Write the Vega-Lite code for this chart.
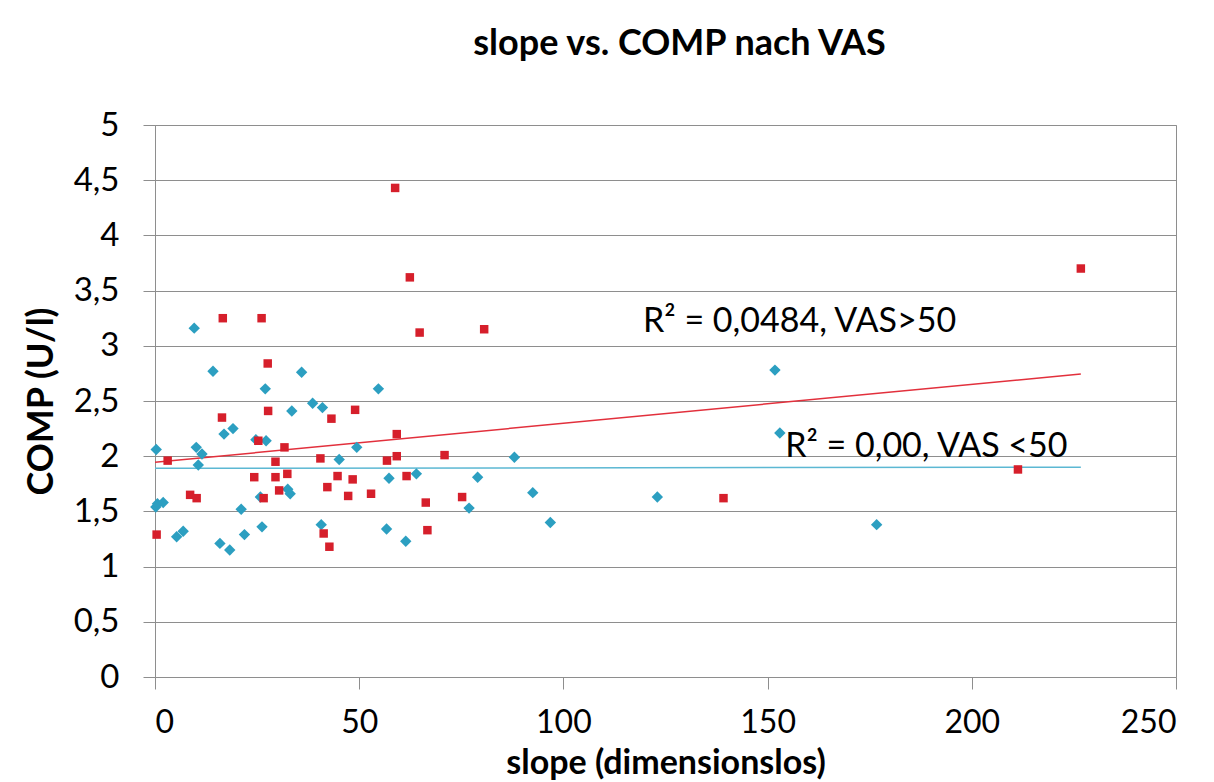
{
  "$schema": "https://vega.github.io/schema/vega-lite/v6.json",
  "width": 1021,
  "height": 552,
  "autosize": {"type": "none"},
  "padding": {"left": 155, "top": 125, "right": 38, "bottom": 105},
  "background": "white",
  "title": {"text": "slope vs. COMP nach VAS", "font": "Lato", "fontSize": 36, "fontWeight": "bold", "color": "black", "anchor": "middle", "offset": 46, "dx": 14},
  "config": {
    "view": {"stroke": "#8e8e8e", "strokeWidth": 1},
    "axis": {
      "labelFont": "Lato", "labelFontSize": 33, "labelColor": "black",
      "titleFont": "Lato", "titleFontWeight": "bold", "titleColor": "black",
      "tickColor": "#8e8e8e", "tickSize": 12, "tickWidth": 1,
      "domainColor": "#8e8e8e", "gridColor": "#8e8e8e", "gridWidth": 1
    }
  },
  "datasets": {
    "pts": [
      {"slope": 0.3, "comp": 2.06, "grp": "VAS<50"},
      {"slope": 0.2, "comp": 1.54, "grp": "VAS<50"},
      {"slope": 0.6, "comp": 1.57, "grp": "VAS<50"},
      {"slope": 2.0, "comp": 1.58, "grp": "VAS<50"},
      {"slope": 5.3, "comp": 1.27, "grp": "VAS<50"},
      {"slope": 6.9, "comp": 1.32, "grp": "VAS<50"},
      {"slope": 9.6, "comp": 3.16, "grp": "VAS<50"},
      {"slope": 10.1, "comp": 2.08, "grp": "VAS<50"},
      {"slope": 10.6, "comp": 1.92, "grp": "VAS<50"},
      {"slope": 11.5, "comp": 2.02, "grp": "VAS<50"},
      {"slope": 14.2, "comp": 2.77, "grp": "VAS<50"},
      {"slope": 15.9, "comp": 1.21, "grp": "VAS<50"},
      {"slope": 16.9, "comp": 2.20, "grp": "VAS<50"},
      {"slope": 18.3, "comp": 1.15, "grp": "VAS<50"},
      {"slope": 19.1, "comp": 2.25, "grp": "VAS<50"},
      {"slope": 21.1, "comp": 1.52, "grp": "VAS<50"},
      {"slope": 21.9, "comp": 1.29, "grp": "VAS<50"},
      {"slope": 24.7, "comp": 2.15, "grp": "VAS<50"},
      {"slope": 26.2, "comp": 1.36, "grp": "VAS<50"},
      {"slope": 25.8, "comp": 1.63, "grp": "VAS<50"},
      {"slope": 27.0, "comp": 2.61, "grp": "VAS<50"},
      {"slope": 27.2, "comp": 2.14, "grp": "VAS<50"},
      {"slope": 32.5, "comp": 1.70, "grp": "VAS<50"},
      {"slope": 33.1, "comp": 1.66, "grp": "VAS<50"},
      {"slope": 33.5, "comp": 2.41, "grp": "VAS<50"},
      {"slope": 35.9, "comp": 2.76, "grp": "VAS<50"},
      {"slope": 38.6, "comp": 2.48, "grp": "VAS<50"},
      {"slope": 40.7, "comp": 1.38, "grp": "VAS<50"},
      {"slope": 41.0, "comp": 2.44, "grp": "VAS<50"},
      {"slope": 45.1, "comp": 1.97, "grp": "VAS<50"},
      {"slope": 49.4, "comp": 2.08, "grp": "VAS<50"},
      {"slope": 54.7, "comp": 2.61, "grp": "VAS<50"},
      {"slope": 56.7, "comp": 1.34, "grp": "VAS<50"},
      {"slope": 57.3, "comp": 1.80, "grp": "VAS<50"},
      {"slope": 61.4, "comp": 1.23, "grp": "VAS<50"},
      {"slope": 64.0, "comp": 1.84, "grp": "VAS<50"},
      {"slope": 76.9, "comp": 1.53, "grp": "VAS<50"},
      {"slope": 79.0, "comp": 1.81, "grp": "VAS<50"},
      {"slope": 88.0, "comp": 1.99, "grp": "VAS<50"},
      {"slope": 92.5, "comp": 1.67, "grp": "VAS<50"},
      {"slope": 96.8, "comp": 1.40, "grp": "VAS<50"},
      {"slope": 123.0, "comp": 1.63, "grp": "VAS<50"},
      {"slope": 151.8, "comp": 2.78, "grp": "VAS<50"},
      {"slope": 153.0, "comp": 2.21, "grp": "VAS<50"},
      {"slope": 176.7, "comp": 1.38, "grp": "VAS<50"},
      {"slope": 0.4, "comp": 1.29, "grp": "VAS>50"},
      {"slope": 3.1, "comp": 1.96, "grp": "VAS>50"},
      {"slope": 8.6, "comp": 1.65, "grp": "VAS>50"},
      {"slope": 10.2, "comp": 1.62, "grp": "VAS>50"},
      {"slope": 16.4, "comp": 2.35, "grp": "VAS>50"},
      {"slope": 16.6, "comp": 3.25, "grp": "VAS>50"},
      {"slope": 24.3, "comp": 1.81, "grp": "VAS>50"},
      {"slope": 25.3, "comp": 2.14, "grp": "VAS>50"},
      {"slope": 26.1, "comp": 3.25, "grp": "VAS>50"},
      {"slope": 26.6, "comp": 1.62, "grp": "VAS>50"},
      {"slope": 27.6, "comp": 2.84, "grp": "VAS>50"},
      {"slope": 27.7, "comp": 2.41, "grp": "VAS>50"},
      {"slope": 29.5, "comp": 1.95, "grp": "VAS>50"},
      {"slope": 29.5, "comp": 1.81, "grp": "VAS>50"},
      {"slope": 30.4, "comp": 1.69, "grp": "VAS>50"},
      {"slope": 31.7, "comp": 2.08, "grp": "VAS>50"},
      {"slope": 32.4, "comp": 1.84, "grp": "VAS>50"},
      {"slope": 40.5, "comp": 1.98, "grp": "VAS>50"},
      {"slope": 41.3, "comp": 1.30, "grp": "VAS>50"},
      {"slope": 42.2, "comp": 1.72, "grp": "VAS>50"},
      {"slope": 42.7, "comp": 1.18, "grp": "VAS>50"},
      {"slope": 43.2, "comp": 2.34, "grp": "VAS>50"},
      {"slope": 44.7, "comp": 1.82, "grp": "VAS>50"},
      {"slope": 47.3, "comp": 1.64, "grp": "VAS>50"},
      {"slope": 48.4, "comp": 1.79, "grp": "VAS>50"},
      {"slope": 49.0, "comp": 2.42, "grp": "VAS>50"},
      {"slope": 52.9, "comp": 1.66, "grp": "VAS>50"},
      {"slope": 56.8, "comp": 1.96, "grp": "VAS>50"},
      {"slope": 58.8, "comp": 4.43, "grp": "VAS>50"},
      {"slope": 59.2, "comp": 2.20, "grp": "VAS>50"},
      {"slope": 59.2, "comp": 2.00, "grp": "VAS>50"},
      {"slope": 61.6, "comp": 1.82, "grp": "VAS>50"},
      {"slope": 62.4, "comp": 3.62, "grp": "VAS>50"},
      {"slope": 64.8, "comp": 3.12, "grp": "VAS>50"},
      {"slope": 66.3, "comp": 1.58, "grp": "VAS>50"},
      {"slope": 66.7, "comp": 1.33, "grp": "VAS>50"},
      {"slope": 70.9, "comp": 2.01, "grp": "VAS>50"},
      {"slope": 75.2, "comp": 1.63, "grp": "VAS>50"},
      {"slope": 80.6, "comp": 3.15, "grp": "VAS>50"},
      {"slope": 139.2, "comp": 1.62, "grp": "VAS>50"},
      {"slope": 211.3, "comp": 1.88, "grp": "VAS>50"},
      {"slope": 226.7, "comp": 3.70, "grp": "VAS>50"}
    ],
    "trend": [
      {"slope": 0, "comp": 1.945, "grp": "VAS>50"},
      {"slope": 226.7, "comp": 2.745, "grp": "VAS>50"},
      {"slope": 0, "comp": 1.89, "grp": "VAS<50"},
      {"slope": 226.7, "comp": 1.90, "grp": "VAS<50"}
    ],
    "labels": [
      {"slope": 119.5, "comp": 3.125, "label": "R² = 0,0484, VAS>50"},
      {"slope": 154.3, "comp": 1.993, "label": "R² = 0,00, VAS <50"}
    ]
  },
  "encoding": {
    "x": {"field": "slope", "type": "quantitative",
      "scale": {"domain": [0, 250], "nice": false},
      "axis": {"values": [0, 50, 100, 150, 200, 250], "grid": false, "domain": false, "labelPadding": 18, "labelFontSize": 32,
        "title": "slope (dimensionslos)", "titleFontSize": 34, "titlePadding": 8}},
    "y": {"field": "comp", "type": "quantitative",
      "scale": {"domain": [0, 5], "nice": false},
      "axis": {"values": [0, 0.5, 1, 1.5, 2, 2.5, 3, 3.5, 4, 4.5, 5], "grid": true, "domain": true, "labelPadding": 24,
        "labelExpr": "replace(toString(datum.value), '.', ',')",
        "title": "COMP (U/l)", "titleFontSize": 36, "titlePadding": 13}}
  },
  "layer": [
    {
      "data": {"name": "trend"},
      "transform": [{"filter": "datum.grp === 'VAS<50'"}],
      "mark": {"type": "line", "color": "#5cb8d3", "strokeWidth": 1.5}
    },
    {
      "data": {"name": "trend"},
      "transform": [{"filter": "datum.grp === 'VAS>50'"}],
      "mark": {"type": "line", "color": "#e2303c", "strokeWidth": 1.5}
    },
    {
      "data": {"name": "pts"},
      "transform": [{"filter": "datum.grp === 'VAS<50'"}],
      "mark": {"type": "point", "shape": "diamond", "filled": true, "color": "#2c9fc1", "size": 130, "opacity": 1}
    },
    {
      "data": {"name": "pts"},
      "transform": [{"filter": "datum.grp === 'VAS>50'"}],
      "mark": {"type": "point", "shape": "square", "filled": true, "color": "#d61f2b", "size": 72, "opacity": 1}
    },
    {
      "data": {"name": "labels"},
      "mark": {"type": "text", "align": "left", "baseline": "alphabetic", "font": "Lato", "fontSize": 34, "color": "black"},
      "encoding": {"text": {"field": "label"}}
    }
  ]
}
